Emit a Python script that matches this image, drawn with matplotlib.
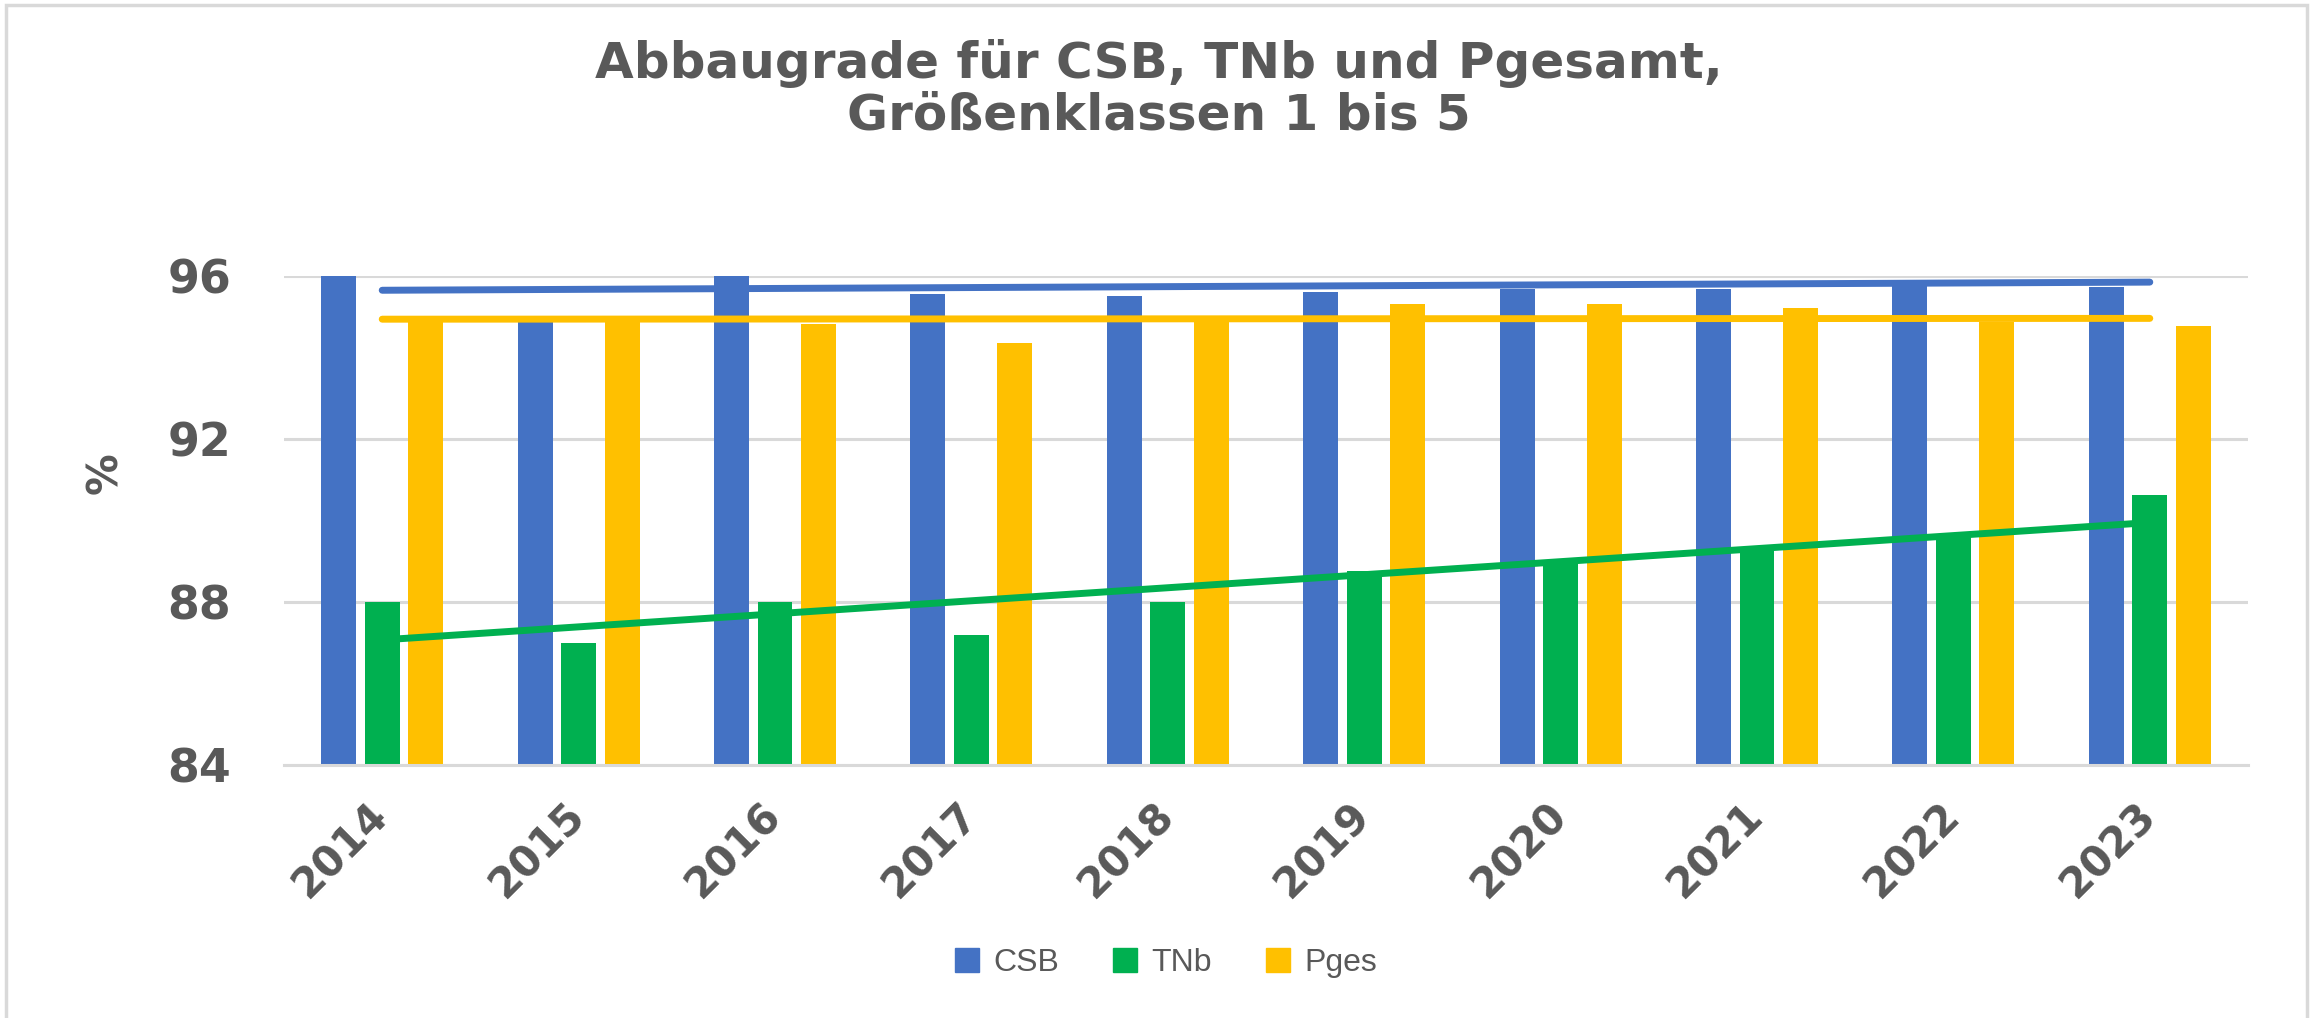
import numpy as np
import matplotlib
matplotlib.use("Agg")
from matplotlib import pyplot as plt
from matplotlib.patches import Patch, Rectangle

# values (%)
years = ["2014", "2015", "2016", "2017", "2018", "2019", "2020", "2021", "2022", "2023"]
csb = [96.2, 94.88, 96.2, 95.55, 95.5, 95.6, 95.67, 95.67, 95.75, 95.74]
tnb = [88.0, 87.0, 88.0, 87.2, 88.0, 88.76, 88.95, 89.3, 89.6, 90.62]
pges = [94.88, 94.88, 94.82, 94.35, 94.88, 95.31, 95.31, 95.22, 94.86, 94.77]

# linear trend lines (first and last year)
csb_trend = [95.65, 95.85]
tnb_trend = [87.07, 89.95]
pges_trend = [94.94, 94.96]

c_csb = "#4472C4"
c_tnb = "#00B050"
c_pges = "#FFC000"
grey = "#595959"
grid = "#D9D9D9"

W, H = 2318, 1018
fig = plt.figure(figsize=(W / 100, H / 100), dpi=100)

# thin frame around the whole chart
fig.patches.append(Rectangle((6 / W, -0.05), (2307 - 6) / W, 1.05 - 5 / H,
                             transform=fig.transFigure, fill=False,
                             edgecolor=grid, linewidth=2.5))

ax = fig.add_axes([284 / W, 1 - 765 / H, 1964 / W, 489 / H])

x = np.arange(len(years))
bw = 0.178
step = 0.2215
ax.bar(x - step, csb, bw, color=c_csb, zorder=2)
ax.bar(x, tnb, bw, color=c_tnb, zorder=2)
ax.bar(x + step, pges, bw, color=c_pges, zorder=2)

ends = [x[0], x[-1]]
ax.plot(ends, csb_trend, color=c_csb, lw=5, solid_capstyle="round", zorder=3)
ax.plot(ends, pges_trend, color=c_pges, lw=5, solid_capstyle="round", zorder=3)
ax.plot(ends, tnb_trend, color=c_tnb, lw=5, solid_capstyle="butt", zorder=3)

ax.set_xlim(-0.5, len(years) - 0.5)
ax.set_ylim(84, 96)
ax.set_yticks([84, 88, 92, 96])
ax.yaxis.grid(True, color=grid, linewidth=2.2, zorder=0)
ax.set_axisbelow(True)
for s in ["top", "right", "left"]:
    ax.spines[s].set_visible(False)
ax.spines["bottom"].set_color(grid)
ax.spines["bottom"].set_linewidth(2.2)

ax.set_xticks(x)
ax.set_xticklabels(years, rotation=45, ha="right", va="center",
                   rotation_mode="anchor")
ax.tick_params(axis="both", length=0, labelcolor=grey)
ax.tick_params(axis="y", pad=38, labelsize=33)
ax.tick_params(axis="x", pad=32, labelsize=30)
for lab in ax.get_xticklabels() + ax.get_yticklabels():
    lab.set_fontweight("bold")

fig.text(105 / W, 1 - 473 / H, "%", rotation=90, ha="center", va="center",
         fontsize=30, fontweight="bold", color=grey)

fig.text(0.5, 1 - 63 / H, "Abbaugrade für CSB, TNb und Pgesamt,",
         ha="center", va="center", fontsize=36, fontweight="bold", color=grey)
fig.text(0.5, 1 - 115 / H, "Größenklassen 1 bis 5",
         ha="center", va="center", fontsize=36, fontweight="bold", color=grey)

handles = [Patch(color=c_csb, label="CSB"), Patch(color=c_tnb, label="TNb"),
           Patch(color=c_pges, label="Pges")]
leg = fig.legend(handles=handles, loc="center", ncol=3, frameon=False,
                 bbox_to_anchor=(1166 / W, 1 - 963 / H),
                 handlelength=0.75, handleheight=0.75, handletextpad=0.45,
                 columnspacing=1.7, prop={"family": "Liberation Sans", "size": 23})
for t in leg.get_texts():
    t.set_color(grey)

fig.savefig("out.png", dpi=100)
